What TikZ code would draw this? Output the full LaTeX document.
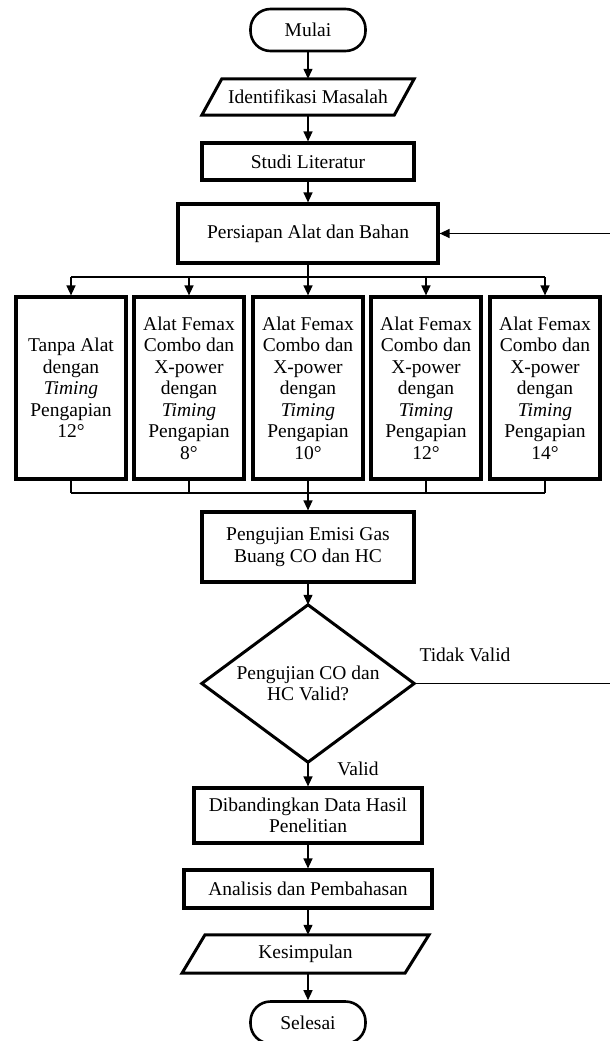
\documentclass[tikz,border=0pt]{standalone}
\usepackage{fontspec}
\setmainfont{Liberation Serif}
\usetikzlibrary{arrows.meta}
\begin{document}
\begin{tikzpicture}[x=1pt,y=-1pt,
  every node/.style={font=\fontsize{19.5}{21.5}\selectfont, inner sep=0pt, align=center},
  box/.style={draw, line width=3.2pt, minimum width=#1, rectangle},
  term/.style={draw, line width=2.6pt, rounded corners=20pt, minimum width=115, minimum height=42},
  shapeline/.style={line width=3pt, line join=miter},
  conn/.style={line width=1.3pt},
  arr/.style={conn, -{Triangle[length=10pt,width=9pt]}}
]
\useasboundingbox (0,0) rectangle (610,1041);

% nodes
\node[term] (start) at (308,30) {Mulai};
\node[minimum width=192, minimum height=36] (iden) at (308,97) {Identifikasi Masalah};
\node[box=212, minimum height=37] (studi) at (308,161.5) {Studi Literatur};
\node[box=260, minimum height=59] (prep) at (308,233.5) {Persiapan Alat dan Bahan};

\node[box=110, minimum height=182] (b1) at (71,388) {Tanpa Alat\\dengan\\\textit{Timing}\\Pengapian\\12°};
\node[box=110, minimum height=182] (b2) at (189,388) {Alat Femax\\Combo dan\\X-power\\dengan\\\textit{Timing}\\Pengapian\\8°};
\node[box=110, minimum height=182] (b3) at (308,388) {Alat Femax\\Combo dan\\X-power\\dengan\\\textit{Timing}\\Pengapian\\10°};
\node[box=110, minimum height=182] (b4) at (426,388) {Alat Femax\\Combo dan\\X-power\\dengan\\\textit{Timing}\\Pengapian\\12°};
\node[box=110, minimum height=182] (b5) at (545,388) {Alat Femax\\Combo dan\\X-power\\dengan\\\textit{Timing}\\Pengapian\\14°};

\node[box=212, minimum height=70] (uji) at (308,547) {Pengujian Emisi Gas\\Buang CO dan HC};
\node[minimum width=212, minimum height=157] (dec) at (308,683.5) {Pengujian CO dan\\HC Valid?};
\node[box=228, minimum height=55] (band) at (308,815.5) {Dibandingkan Data Hasil\\Penelitian};
\node[box=248, minimum height=38] (anal) at (308,889) {Analisis dan Pembahasan};
\node[minimum width=200, minimum height=38] (kes) at (308,954) {\hspace*{-5pt}Kesimpulan};
\node[term] (end) at (308,1022.5) {Selesai};

\node (tv) at (465,655) {Tidak Valid};
\node (vl) at (358,769) {Valid};

% outlines of special shapes
\draw[shapeline] ([xshift=-10pt]iden.south west) -- ([xshift=-10pt]iden.south east)
  -- ([xshift=10pt]iden.north east) -- ([xshift=10pt]iden.north west) -- cycle;
\draw[shapeline] (dec.north) -- (dec.east) -- (dec.south) -- (dec.west) -- cycle;
\draw[shapeline] ([xshift=-126pt]kes.south) -- ([xshift=97pt]kes.south)
  -- ([xshift=121pt]kes.north) -- ([xshift=-103pt]kes.north) -- cycle;

% coordinates
\coordinate (topbus) at (308,277);
\coordinate (botbus) at (308,493);
\coordinate (fb) at (614,683.5);

% connectors
\draw[arr] (start) -- (iden);
\draw[arr] (iden) -- (studi);
\draw[arr] (studi) -- (prep);
\draw[arr] (prep) -- (b3);
\draw[conn] (b1.north |- topbus) -- (b5.north |- topbus);
\foreach \b in {b1,b2,b4,b5} \draw[arr] (\b.north |- topbus) -- (\b.north);
\foreach \b in {b1,b2,b4,b5} \draw[conn] (\b.south) -- (\b.south |- botbus);
\draw[conn] (b1.south |- botbus) -- (b5.south |- botbus);
\draw[arr] (b3) -- (uji);
\draw[arr] (uji) -- (dec.north);
\draw[arr] (dec.south) -- (band);
\draw[arr] (band) -- (anal);
\draw[arr] (anal) -- (kes);
\draw[arr] (kes) -- (end);
\draw[arr] (dec.east) -- (fb) |- (prep.east);
\end{tikzpicture}
\end{document}
